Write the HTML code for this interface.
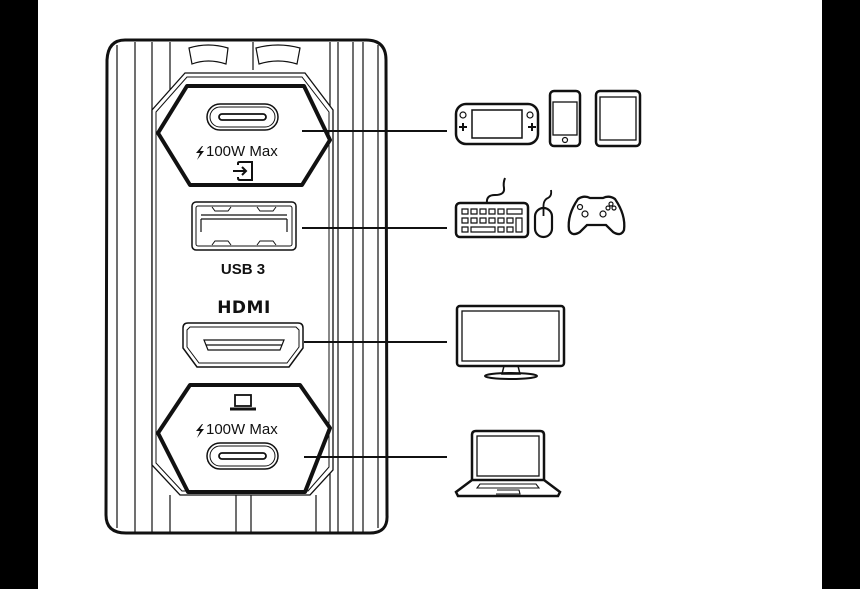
<!DOCTYPE html>
<html><head><meta charset="utf-8"><style>
html,body{margin:0;padding:0;background:#fff}
svg{display:block}
text{font-family:"Liberation Sans","DejaVu Sans",sans-serif;fill:#111}
</style></head><body>
<svg width="860" height="589" viewBox="0 0 860 589" xmlns="http://www.w3.org/2000/svg">
<rect x="0" y="0" width="38" height="589" fill="#000"/>
<rect x="822" y="0" width="38" height="589" fill="#000"/>
<g fill="none" stroke="#111">
<path d="M125 40 Q108 40 107 60 L106 515 Q106 533 126 533 L370 533 Q388 533 387 515 L386 60 Q386 40 366 40 Z" stroke-width="3"/>
<g stroke-width="1.2">
<line x1="117" y1="45" x2="117" y2="528"/><line x1="135" y1="42" x2="135" y2="532"/><line x1="152" y1="42" x2="152" y2="532"/>
<line x1="170" y1="42" x2="170" y2="90"/><line x1="170" y1="495" x2="170" y2="532"/>
<line x1="236" y1="495" x2="236" y2="532"/><line x1="251" y1="495" x2="251" y2="532"/>
<line x1="253" y1="42" x2="253" y2="70"/>
<line x1="316" y1="495" x2="316" y2="532"/>
<line x1="330" y1="42" x2="330" y2="532"/><line x1="338" y1="42" x2="338" y2="532"/>
<line x1="353" y1="42" x2="353" y2="532"/><line x1="363" y1="42" x2="363" y2="532"/><line x1="378" y1="45" x2="378" y2="528"/>
<path d="M189 48 Q208 42 228 48 L226 64 Q208 58 192 64 Z" fill="#fff"/>
<path d="M256 48 Q278 42 300 48 L297 64 Q278 58 259 64 Z" fill="#fff"/>
<path d="M185 73 L305 73 L333 110 L333 470 L310 495 L180 495 L152 465 L152 110 Z" fill="#fff" stroke-width="1.3"/>
<path d="M187 77 L302 77 L329 112 L329 467 L308 491 L182 491 L156 463 L156 112 Z" stroke-width="1"/>
</g>
<path d="M187 86 L304 86 L330 140 L302 185 L190 185 L158 133 Z" stroke-width="4" stroke-linejoin="round" fill="#fff"/>
<path d="M190 385 L300 385 L330 428 L305 492 L188 492 L158 433 Z" stroke-width="4" stroke-linejoin="round" fill="#fff"/>
<rect x="207" y="104" width="71" height="26" rx="13" stroke-width="1.5"/>
<rect x="210" y="107" width="65" height="20" rx="10" stroke-width="1"/>
<rect x="219" y="114" width="47" height="6" rx="3" stroke-width="1.8"/>
<rect x="207" y="443" width="71" height="26" rx="13" stroke-width="1.5"/>
<rect x="210" y="446" width="65" height="20" rx="10" stroke-width="1"/>
<rect x="219" y="453" width="47" height="6" rx="3" stroke-width="1.8"/>
<path d="M238 165 L238 163 Q238 162 240 162 L252 162 L252 180 L240 180 Q238 180 238 178 L238 177" stroke-width="2"/>
<line x1="233" y1="171" x2="246" y2="171" stroke-width="2"/><path d="M242 167 L246 171 L242 175" stroke-width="2"/>
<rect x="192" y="202" width="104" height="48" rx="4" stroke-width="1.5"/>
<rect x="196" y="206" width="96" height="40" rx="2" stroke-width="1"/>
<path d="M201 215 L287 215 M201 219 L287 219 M201 219 L201 232 M287 219 L287 232" stroke-width="1.2"/>
<path d="M212 207 L215 211 L228 211 L231 207 M257 207 L260 211 L273 211 L276 207 M212 245 L215 241 L228 241 L231 245 M257 245 L260 241 L273 241 L276 245" stroke-width="1"/>
<path d="M188 323 L298 323 Q303 323 303 328 L303 348 L289 367 L197 367 L183 348 L183 328 Q183 323 188 323 Z" stroke-width="1.5"/>
<path d="M190 327 L296 327 L299 330 L299 347 L287 363 L199 363 L187 347 L187 330 Z" stroke-width="1"/>
<path d="M204 340 L284 340 L280 350 L208 350 Z M206 345 L282 345" stroke-width="1.2"/>
<rect x="235" y="395" width="16" height="11" stroke-width="1.8"/>
<path d="M230 409 L256 409" stroke-width="3"/>
<g stroke-width="2"><line x1="302" y1="131" x2="447" y2="131"/><line x1="302" y1="228" x2="447" y2="228"/><line x1="304" y1="342" x2="447" y2="342"/><line x1="304" y1="457" x2="447" y2="457"/></g>
<rect x="456" y="104" width="82" height="40" rx="10" stroke-width="2.5"/>
<rect x="472" y="110" width="50" height="28" stroke-width="1.5"/>
<circle cx="463" cy="115" r="3" stroke-width="1.2"/><circle cx="530" cy="115" r="3" stroke-width="1.2"/>
<path d="M463 123 v8 M459 127 h8 M528 127 h8 M532 123 v8" stroke-width="2"/>
<rect x="550" y="91" width="30" height="55" rx="4" stroke-width="2.5"/>
<rect x="553" y="102" width="24" height="33" stroke-width="1.3"/>
<circle cx="565" cy="140" r="2.5" stroke-width="1.2"/>
<rect x="596" y="91" width="44" height="55" rx="4" stroke-width="2.5"/>
<rect x="600" y="97" width="36" height="43" stroke-width="1.3"/>
<rect x="456" y="203" width="72" height="34" rx="4" stroke-width="2.5"/>
<g stroke-width="1.2"><path d="M462 209 h6 v5 h-6z M471 209 h6 v5 h-6z M480 209 h6 v5 h-6z M489 209 h6 v5 h-6z M498 209 h6 v5 h-6z M507 209 h15 v5 h-15z M462 218 h6 v5 h-6z M471 218 h6 v5 h-6z M480 218 h6 v5 h-6z M489 218 h6 v5 h-6z M498 218 h6 v5 h-6z M507 218 h6 v5 h-6z M516 218 h6 v14 h-6z M462 227 h6 v5 h-6z M471 227 h24 v5 h-24z M498 227 h6 v5 h-6z M507 227 h6 v5 h-6z"/></g>
<path d="M487 203 Q486 195 495 195 Q505 195 504 188 Q503 183 505 178" stroke-width="2"/>
<rect x="535" y="208" width="17" height="29" rx="8.5" stroke-width="2.2"/>
<path d="M543.5 208 v8 M543.5 208 Q543 200 548 198 Q552 196 551 190" stroke-width="1.8"/>
<path d="M578 199 Q584 195 590 198 L603 198 Q609 195 615 199 Q626 215 624 230 Q621 237 613 232 L606 225 L587 225 L580 232 Q572 237 569 230 Q567 215 578 199 Z" stroke-width="2.3"/>
<circle cx="580" cy="207" r="2.5" stroke-width="1.2"/><circle cx="585" cy="214" r="3" stroke-width="1.2"/><circle cx="603" cy="214" r="3" stroke-width="1.2"/>
<circle cx="611" cy="204" r="2" stroke-width="1.2"/><circle cx="614" cy="208" r="2" stroke-width="1.2"/><circle cx="608" cy="208" r="2" stroke-width="1.2"/>
<rect x="457" y="306" width="107" height="60" rx="3" stroke-width="2.5"/>
<rect x="462" y="311" width="97" height="50" stroke-width="1.3"/>
<path d="M504 366 L502 374 L520 374 L518 366" stroke-width="1.5"/>
<ellipse cx="511" cy="376" rx="26" ry="3" stroke-width="2"/>
<path d="M472 480 L472 435 Q472 431 476 431 L540 431 Q544 431 544 435 L544 480" stroke-width="2.5"/>
<rect x="477" y="436" width="62" height="40" stroke-width="1.3"/>
<path d="M472 480 L456 492 L458 496 L558 496 L560 492 L544 480 Z" stroke-width="2.5"/>
<path d="M480 484 L536 484 L539 488 L477 488 Z M497 490 L519 490 L520 494 L496 494" stroke-width="1.1"/>
</g>
<path d="M202 146 L196 153 L200 153 L197 160 L204 151 L200 151 L203 146 Z" fill="#111"/>
<path d="M202 424 L196 431 L200 431 L197 438 L204 429 L200 429 L203 424 Z" fill="#111"/>
<text x="206" y="156" font-size="15">100W Max</text>
<text x="243" y="274" font-size="15" font-weight="bold" text-anchor="middle" fill="#222">USB 3</text>
<text x="244" y="313" font-size="17" font-weight="bold" text-anchor="middle" letter-spacing="0.5" style="font-family:'DejaVu Sans','Liberation Sans',sans-serif">HDMI</text>
<text x="206" y="434" font-size="15">100W Max</text>
</svg>
</body></html>
